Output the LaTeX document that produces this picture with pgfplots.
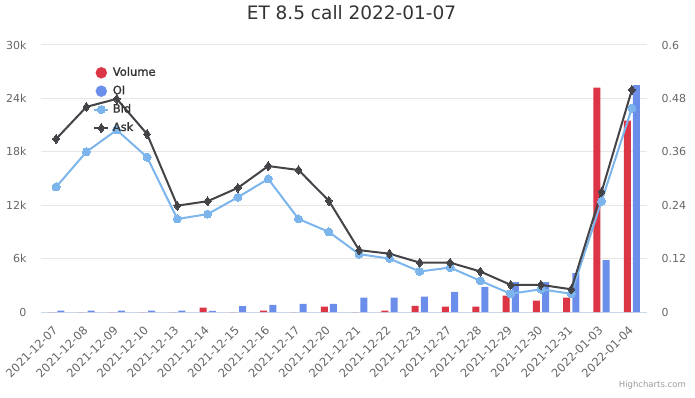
\documentclass[border=0pt]{standalone}
\usepackage{pgfplots}
\pgfplotsset{compat=1.18}
\usepackage{pgfplotstable}
\usepackage{fontspec}
\setmainfont{DejaVu Sans}
\newfontfamily\legfont{DejaVu Sans}[FakeBold=1.2]
\definecolor{volc}{RGB}{220,53,69}
\definecolor{oic}{RGB}{108,142,235}
\definecolor{bidc}{RGB}{124,181,236}
\definecolor{askc}{RGB}{67,67,72}
\definecolor{gridc}{RGB}{230,230,230}
\definecolor{axisc}{RGB}{204,214,235}
\definecolor{tickc}{RGB}{102,102,102}
\definecolor{textc}{RGB}{51,51,51}
\pgfplotstableread{
idx vol oi bid ask
0 0 150 0.281 0.389
1 0 150 0.360 0.461
2 0 150 0.409 0.479
3 0 150 0.348 0.400
4 0 150 0.209 0.239
5 480 120 0.220 0.249
6 0 670 0.258 0.279
7 150 790 0.299 0.328
8 0 900 0.209 0.319
9 600 900 0.180 0.250
10 0 1610 0.130 0.139
11 150 1610 0.120 0.131
12 700 1720 0.091 0.111
13 600 2250 0.100 0.111
14 600 2810 0.070 0.091
15 1830 3370 0.041 0.061
16 1270 3370 0.051 0.061
17 1610 4380 0.041 0.051
18 25200 5840 0.249 0.270
19 21500 25500 0.458 0.499
}\datatable
\pgfplotsset{
  common/.style={
    at={(41pt,85pt)}, anchor=south west,
    width=606pt, height=267pt, scale only axis,
    xmin=-0.5, xmax=19.5,
    /pgf/number format/assume math mode=true,
    tick style={draw=none},
    major tick length=0pt,
    yticklabel style={font=\fontsize{11}{13}\selectfont, color=tickc},
  },
  lineleg/.style={legend image code/.code={\draw[##1,mark repeat=2,mark phase=2] plot coordinates {(0pt,0pt) (7pt,0pt) (14pt,0pt)};}},
}
\begin{document}
\begin{tikzpicture}
\useasboundingbox (0,0) rectangle (695pt,397pt);
\begin{axis}[common,
  ymin=0, ymax=30000,
  ytick={0,6000,12000,18000,24000,30000},
  yticklabels={0,6k,12k,18k,24k,30k},
  scaled y ticks=false,
  ymajorgrids, grid style={draw=gridc, line width=1pt},
  axis x line*=bottom, axis y line*=left,
  x axis line style={draw=axisc, line width=1pt},
  y axis line style={draw=none},
  yticklabel style={xshift=-11pt},
  xtick={0,...,19},
  xticklabels={2021-12-07,2021-12-08,2021-12-09,2021-12-10,2021-12-13,2021-12-14,2021-12-15,2021-12-16,2021-12-17,2021-12-20,2021-12-21,2021-12-22,2021-12-23,2021-12-27,2021-12-28,2021-12-29,2021-12-30,2021-12-31,2022-01-03,2022-01-04},
  xticklabel style={xshift=-4pt, yshift=-8pt, rotate=45, anchor=north east, font=\fontsize{11.5}{13}\selectfont, color=tickc},
  ybar, bar width=7pt,
]
\addplot[fill=volc, draw=none, bar shift=-4.6pt] table[x=idx, y=vol] {\datatable};
\addplot[fill=oic, draw=none, bar shift=4.6pt] table[x=idx, y=oi] {\datatable};
\end{axis}
\begin{axis}[common,
  ymin=0, ymax=0.6,
  ytick={0,0.12,0.24,0.36,0.48,0.6},
  yticklabels={0,0.12,0.24,0.36,0.48,0.6},
  axis x line=none, axis y line*=right,
  y axis line style={draw=none},
  yticklabel style={xshift=11pt},
  legend style={at={(0.086,0.936)}, anchor=north west, xshift=-3pt, yshift=-1pt, draw=none, fill=none,
    font=\legfont\fontsize{11.5}{14}\selectfont, text=textc, row sep=3.4pt,
    nodes={text height=9pt, text depth=3pt, inner sep=1.5pt},
    /tikz/every odd column/.append style={column sep=2pt}},
  legend cell align=left,
]
\addlegendimage{legend image code/.code={\fill[volc] (7pt,0pt) circle (5.5pt);}}
\addlegendentry{Volume}
\addlegendimage{legend image code/.code={\fill[oic] (7pt,0pt) circle (5.5pt);}}
\addlegendentry{OI}
\addplot[draw=bidc, line width=2pt, mark=*, mark size=4pt, mark options={fill=bidc, draw=bidc, line width=0pt}, lineleg]
  table[x=idx, y=bid] {\datatable};
\addlegendentry{Bid}
\addplot[draw=askc, line width=2pt, mark=diamond*, mark size=4.5pt, mark options={fill=askc, draw=askc, line width=0pt}, lineleg]
  table[x=idx, y=ask] {\datatable};
\addlegendentry{Ask}
\end{axis}
\node[font=\fontsize{18.5}{22}\selectfont, text=textc, anchor=base] at (351.5pt,377.5pt) {ET 8.5 call 2022-01-07};
\node[font=\fontsize{8.5}{10}\selectfont, text=gray!80, anchor=east, inner sep=0pt] at (686pt,12pt) {Highcharts.com};
\end{tikzpicture}
\end{document}
